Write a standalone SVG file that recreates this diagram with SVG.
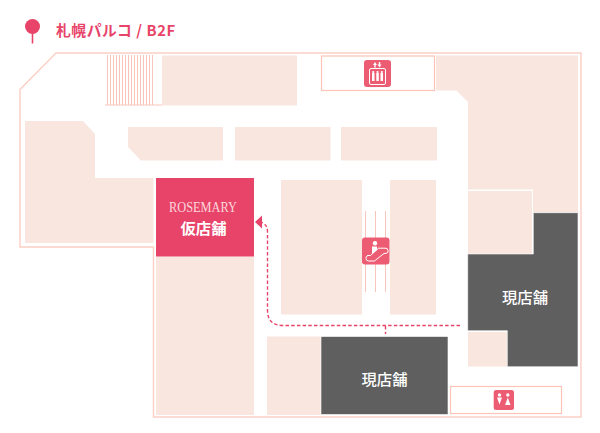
<svg xmlns="http://www.w3.org/2000/svg" width="600" height="433" viewBox="0 0 600 433">
<style>
.s{fill:#f9e6df}
.d{fill:#5f5f5f;stroke:#fff;stroke-width:.6}
.o{fill:none;stroke:#fbcfc5;stroke-width:1.4}
.b{fill:#fff;stroke:#fbc4b6;stroke-width:1.2}
.l{stroke:#f8c6b9;stroke-width:1;fill:none}
.i{fill:#ec5c72}
.w{fill:#fff}
.wl{fill:none;stroke:#fff;stroke-width:1}
.t{font-family:"Noto Sans CJK JP","Noto Sans",sans-serif;font-weight:500;font-size:15.3px;text-anchor:middle;fill:#fff}
.c{fill:none;stroke:#e8446a;stroke-width:1.4;stroke-dasharray:3.5 2.2}
</style>
<rect width="600" height="433" fill="#fff"/>
<g id="title">
<line x1="32.500" y1="28" x2="32.500" y2="43.500" stroke="#e8446a" stroke-width="1.600"/>
<circle cx="32.500" cy="26.500" r="7.500" fill="#e8446a"/>
<text x="56" y="36" style="font-family:'Noto Sans CJK JP','Noto Sans',sans-serif;font-weight:700;font-size:14.800px;fill:#e8446a;letter-spacing:.55px">札幌パルコ / B2F</text>
</g>
<path id="outline" class="o" d="M20 89.500L56 53H581V417H153.500V247H20Z"/>
<g id="stairs" class="l">
<path d="M107.500 55V105M110.500 55V105M113.500 55V105M116.500 55V105M119.500 55V105M122.500 55V105M125.500 55V105M128.500 55V105M131.500 55V105M134.500 55V105M137.500 55V105M140.500 55V105M143.500 55V105M146.500 55V105M149.500 55V105M152.500 55V105"/>
<path d="M105 105H162"/>
</g>
<g id="store-top"><rect class="s" x="162" y="55.500" width="135" height="50"/></g>
<g id="store-west"><path class="s" d="M25 121H83L95 134V178H153.500V243H25Z"/></g>
<g id="store-mid-1"><path class="s" d="M128 127H223V160.500H141L128 147Z"/></g>
<g id="store-mid-2"><rect class="s" x="235" y="127" width="95.500" height="33.500"/></g>
<g id="store-mid-3"><rect class="s" x="341" y="127" width="96" height="33.500"/></g>
<g id="store-center-1"><rect class="s" x="281" y="180" width="81" height="134.500"/></g>
<g id="store-center-2"><rect class="s" x="390" y="180" width="46" height="134.500"/></g>
<g id="store-south"><rect class="s" x="156" y="256.500" width="98" height="158.500"/></g>
<g id="store-bottom"><rect class="s" x="267" y="336.500" width="54" height="78.500"/></g>
<g id="store-ne"><path class="s" d="M436 55.500H578V212.500H533V189.500H468V102L456.500 90.500H436Z"/></g>
<g id="store-e"><rect class="s" x="468" y="191" width="64" height="63"/></g>
<g id="store-se"><rect class="s" x="468" y="332" width="39" height="34.500"/></g>
<g id="rosemary">
<rect x="156" y="178" width="98" height="78.500" fill="#e8446a"/>
<text x="169" y="212" textLength="68" lengthAdjust="spacingAndGlyphs" style="font-family:'Liberation Serif',serif;font-size:15px;fill:#fbd7dc">ROSEMARY</text>
<text class="t" x="203.500" y="234" style="font-weight:700">仮店舗</text>
</g>
<g id="current-east">
<path class="d" d="M533.300 212.700H578V366.700H507.300V330.700H467.700V254H533.300Z"/>
<text class="t" x="525" y="303">現店舗</text>
</g>
<g id="current-south">
<rect class="d" x="321" y="336.500" width="127" height="78"/>
<text class="t" x="384.500" y="385">現店舗</text>
</g>
<g id="elevator">
<rect class="b" x="321.500" y="56" width="113" height="34.500"/>
<rect class="i" x="364" y="60" width="27" height="27" rx="3"/>
<path class="w" d="M375 62l2 3h-1.300v2.500h-1.400V65H373zM379.500 67.500l-2-3h1.300V62h1.400v2.500h1.300z"/>
<rect class="wl" x="369.500" y="68.500" width="16" height="16" rx="1.500"/>
<path class="w" d="M372 73h2.500v8h-2.500zM376.300 73h2.500v8h-2.500zM380.500 73h2.500v8h-2.500z"/>
<circle class="w" cx="373.200" cy="72" r="1.100"/><circle class="w" cx="377.500" cy="72" r="1.100"/><circle class="w" cx="381.800" cy="72" r="1.100"/>
</g>
<g id="escalator">
<path class="l" d="M365.500 211V292M375.500 211V292M385.500 211V292"/>
<rect class="i" x="362" y="237.500" width="27.500" height="27" rx="3"/>
<circle class="w" cx="375" cy="243.300" r="2.200"/>
<path class="w" d="M372 246.500h5v3.500l-5 4z"/>
<path class="wl" d="M367 255.500h3.500l8-7.300h6.500a2.600 2.600 0 0 1 1 5.200h-2l-9.500 7.600h-6a2.800 2.800 0 0 1 -.5-5.500z" stroke-width="1.200"/>
</g>
<g id="toilet">
<rect class="b" x="450.500" y="386.500" width="111" height="27"/>
<rect class="i" x="493.700" y="390" width="20.300" height="20" rx="2.500"/>
<circle class="w" cx="499.500" cy="395" r="1.700"/><circle class="w" cx="507.800" cy="395" r="1.700"/>
<path class="w" d="M497 397.500h5l-2.500 7zM507.800 397.500l2.700 7.500h-5.400z"/>
</g>
<g id="connectors">
<path class="c" d="M460 325.500H283Q267.500 325.500 267.500 310V232Q267.500 224 261 222.300"/>
<path class="c" d="M385.500 326V334"/>
<path d="M255 222L262 215.500V228.500Z" fill="#e8446a"/>
</g>
</svg>
